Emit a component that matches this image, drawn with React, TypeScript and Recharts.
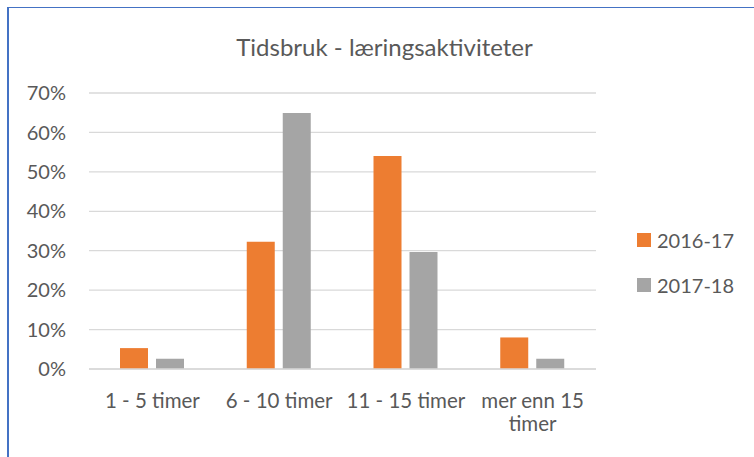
import React from 'react';
import { BarChart, Bar, XAxis, YAxis, CartesianGrid, Legend } from 'recharts';

const categories = ['1 - 5 timer', '6 - 10 timer', '11 - 15 timer', 'mer enn 15 timer'];
const values2016 = [5.3, 32.3, 54, 8];
const values2017 = [2.6, 64.9, 29.7, 2.6];
const yTicks = [0, 10, 20, 30, 40, 50, 60, 70];

const series = [
  { key: 'y2016', name: '2016-17', color: '#ED7D31' },
  { key: 'y2017', name: '2017-18', color: '#A5A5A5' },
];

const data = categories.map((name, i) => ({ name, y2016: values2016[i], y2017: values2017[i] }));

const textColor = '#595959';
const font = 'Lato, "Open Sans", sans-serif';

// Excel wraps the long category label onto two lines
const CategoryTick = (props: any) => {
  const { x, y, payload } = props;
  const label: string = payload.value;
  let lines = [label];
  if (label.length > 13) {
    const cut = label.lastIndexOf(' ');
    lines = [label.slice(0, cut), label.slice(cut + 1)];
  }
  return (
    <g>
      {lines.map((l, i) => (
        <text key={i} x={x} y={y + 39 + i * 23} textAnchor="middle" fill={textColor} fontSize={20.5} fontFamily={font}>
          {l}
        </text>
      ))}
    </g>
  );
};

const LegendContent = () => (
  <div style={{ fontFamily: font, fontSize: 20, color: textColor }}>
    {series.map((s, i) => (
      <div key={s.key} style={{ display: 'flex', alignItems: 'center', height: 28, marginBottom: i === 0 ? 17 : 0 }}>
        <span style={{ width: 14, height: 14, background: s.color, display: 'inline-block', marginRight: 6 }} />
        <span>{s.name}</span>
      </div>
    ))}
  </div>
);

export default function App() {
  return (
    <div style={{ position: 'fixed', left: 0, top: 0, width: 754, height: 457, overflow: 'hidden', background: '#fff' }}>
      <div style={{ position: 'absolute', left: 7, top: 7, width: 800, height: 500, borderLeft: '2px solid #4472C4', borderTop: '1.5px solid #4472C4' }} />
      <div style={{ position: 'absolute', left: 0, width: 769, top: 30, textAlign: 'center', fontFamily: font, fontSize: 24, color: textColor, lineHeight: '34px' }}>
        Tidsbruk - læringsaktiviteter
      </div>
      <div style={{ position: 'absolute', left: 0, top: 0 }}>
        <BarChart width={754} height={457} data={data} margin={{ top: 93, right: 158, left: 0, bottom: 28 }} barSize={28} barGap={8}>
          <CartesianGrid vertical={false} stroke="#d9d9d9" strokeWidth={1.3} />
          <XAxis
            dataKey="name"
            tickLine={false}
            axisLine={{ stroke: '#d9d9d9', strokeWidth: 1.3 }}
            tickSize={0}
            tickMargin={0}
            height={60}
            interval={0}
            tick={<CategoryTick />}
          />
          <YAxis
            width={89}
            domain={[0, 70]}
            ticks={yTicks}
            tickFormatter={(v: number) => `${v}%`}
            axisLine={false}
            tickLine={false}
            tickSize={0}
            tickMargin={23}
            tick={{ fill: textColor, fontSize: 20, fontFamily: font }}
          />
          <Legend
            layout="vertical"
            align="center"
            verticalAlign="middle"
            content={<LegendContent />}
            wrapperStyle={{ left: 637, top: 226, width: 115 }}
          />
          {series.map(s => (
            <Bar key={s.key} dataKey={s.key} name={s.name} fill={s.color} isAnimationActive={false} />
          ))}
        </BarChart>
      </div>
    </div>
  );
}
